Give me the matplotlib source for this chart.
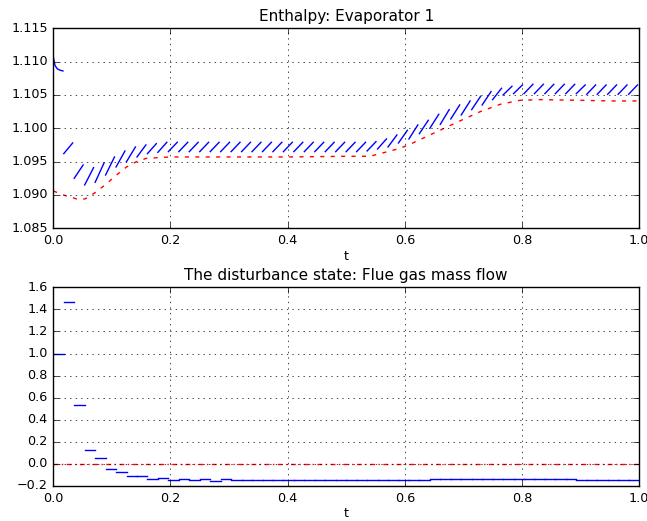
import matplotlib
matplotlib.use("Agg")
import matplotlib.pyplot as plt
from matplotlib.ticker import ScalarFormatter, MultipleLocator

plt.style.use("classic")

# sampling interval of the controller, one prediction per interval
dt = 1.0 / 56
n_steps = 56

# predicted enthalpy over each interval: value at the start and at the end
pred_start = [
    1.1107, 1.0962, 1.0925, 1.0915, 1.0919, 1.0930, 1.0942, 1.0950, 1.0957, 1.0962,
    1.0964, 1.0965, 1.0965, 1.0965, 1.0965, 1.0965, 1.0965, 1.0965, 1.0965, 1.0965,
    1.0965, 1.0965, 1.0965, 1.0965, 1.0965, 1.0965, 1.0965, 1.0965, 1.0965, 1.0965,
    1.0966, 1.0969, 1.0972, 1.0978, 1.0984, 1.0992, 1.1000, 1.1006, 1.1014, 1.1020,
    1.1028, 1.1035, 1.1043, 1.1050, 1.1052, 1.1052, 1.1052, 1.1052, 1.1052, 1.1052,
    1.1052, 1.1051, 1.1051, 1.1051, 1.1051, 1.1051,
]
pred_end = [
    1.1086, 1.0978, 1.0945, 1.0941, 1.0948, 1.0957, 1.0966, 1.0972, 1.0975, 1.0977,
    1.0979, 1.0979, 1.0979, 1.0979, 1.0979, 1.0979, 1.0979, 1.0979, 1.0979, 1.0979,
    1.0979, 1.0979, 1.0979, 1.0979, 1.0979, 1.0979, 1.0979, 1.0979, 1.0979, 1.0979,
    1.0980, 1.0984, 1.0990, 1.0997, 1.1005, 1.1012, 1.1021, 1.1028, 1.1035, 1.1041,
    1.1048, 1.1055, 1.1060, 1.1063, 1.1065, 1.1066, 1.1066, 1.1066, 1.1066, 1.1066,
    1.1065, 1.1065, 1.1065, 1.1065, 1.1065, 1.1065,
]
# the first prediction bends, so it gets a few more points
first_dt = [0.0, 0.003, 0.007, 0.012, 0.0165]
first_pred = [1.1107, 1.1094, 1.1089, 1.1087, 1.1086]

# simulated enthalpy of evaporator 1
sim_t = [0.0, 0.017, 0.040, 0.054, 0.074, 0.091, 0.108, 0.125, 0.142, 0.159,
         0.18, 0.20, 0.30, 0.40, 0.50, 0.54, 0.558, 0.575, 0.592, 0.609,
         0.626, 0.66, 0.694, 0.729, 0.763, 0.797, 0.831, 0.90, 0.95, 1.0]
sim_h = [1.0906, 1.0900, 1.0894, 1.0894, 1.0905, 1.0917, 1.0930, 1.0942, 1.0950, 1.0955,
         1.0956, 1.0957, 1.0957, 1.0957, 1.0958, 1.0958, 1.0962, 1.0966, 1.0970, 1.0976,
         1.0983, 1.0997, 1.1011, 1.1025, 1.1036, 1.1042, 1.1043, 1.1042, 1.1041, 1.1041]

# estimated flue gas disturbance, held constant over each interval
dist_est = [
    1.00, 1.47, 0.53, 0.13, 0.056, -0.046, -0.070, -0.112, -0.112, -0.137,
    -0.128, -0.149, -0.137, -0.149, -0.140, -0.152, -0.137, -0.149, -0.149, -0.149,
    -0.149, -0.149, -0.149, -0.149, -0.149, -0.149, -0.149, -0.149, -0.149, -0.149,
    -0.149, -0.149, -0.149, -0.149, -0.149, -0.149, -0.139, -0.139, -0.139, -0.139,
    -0.139, -0.139, -0.139, -0.139, -0.139, -0.139, -0.139, -0.139, -0.139, -0.139,
    -0.149, -0.149, -0.149, -0.149, -0.149, -0.149,
]
true_t = [0.0, 1.0]
true_dist = [0.0, 0.0]

fig = plt.figure(figsize=(6.47, 5.21), dpi=100, facecolor="white")
ax1 = fig.add_axes([0.0824, 0.5618, 0.9053, 0.3839])
ax2 = fig.add_axes([0.0824, 0.0672, 0.9053, 0.3814])

for k in range(n_steps):
    t0 = k * dt
    if k == 0:
        ax1.plot([t0 + d for d in first_dt], first_pred, "b-", lw=1.0)
    else:
        ax1.plot([t0, t0 + 0.85 * dt], [pred_start[k], pred_end[k]], "b-", lw=1.0)
ax1.plot(sim_t, sim_h, "r-", lw=1.0, dashes=(2.9, 4.6))

for k in range(n_steps):
    t0 = k * dt
    ax2.plot([t0, t0 + dt], [dist_est[k], dist_est[k]], "b-", lw=1.0)
ax2.plot(true_t, true_dist, "r-", lw=1.0, dashes=(3.5, 2.5, 1.0, 2.5))

ax1.set_title("Enthalpy: Evaporator 1", fontsize=11)
ax2.set_title("The disturbance state: Flue gas mass flow", fontsize=11)
ax1.set_ylim(1.085, 1.115)
ax2.set_ylim(-0.2, 1.6)
ax1.yaxis.set_major_locator(MultipleLocator(0.005))
ax2.yaxis.set_major_locator(MultipleLocator(0.2))

for ax in (ax1, ax2):
    ax.set_xlim(0, 1)
    ax.xaxis.set_major_locator(MultipleLocator(0.2))
    ax.set_xlabel("t", fontsize=9.2, labelpad=2)
    ax.grid(True, color="k", linestyle=":", lw=0.5)
    ax.tick_params(labelsize=9.2, direction="in", top=True, right=True)
    fmt = ScalarFormatter(useOffset=False)
    ax.yaxis.set_major_formatter(fmt)
    ax.set_facecolor("white")

fig.savefig("out.png", dpi=100, facecolor="white")
